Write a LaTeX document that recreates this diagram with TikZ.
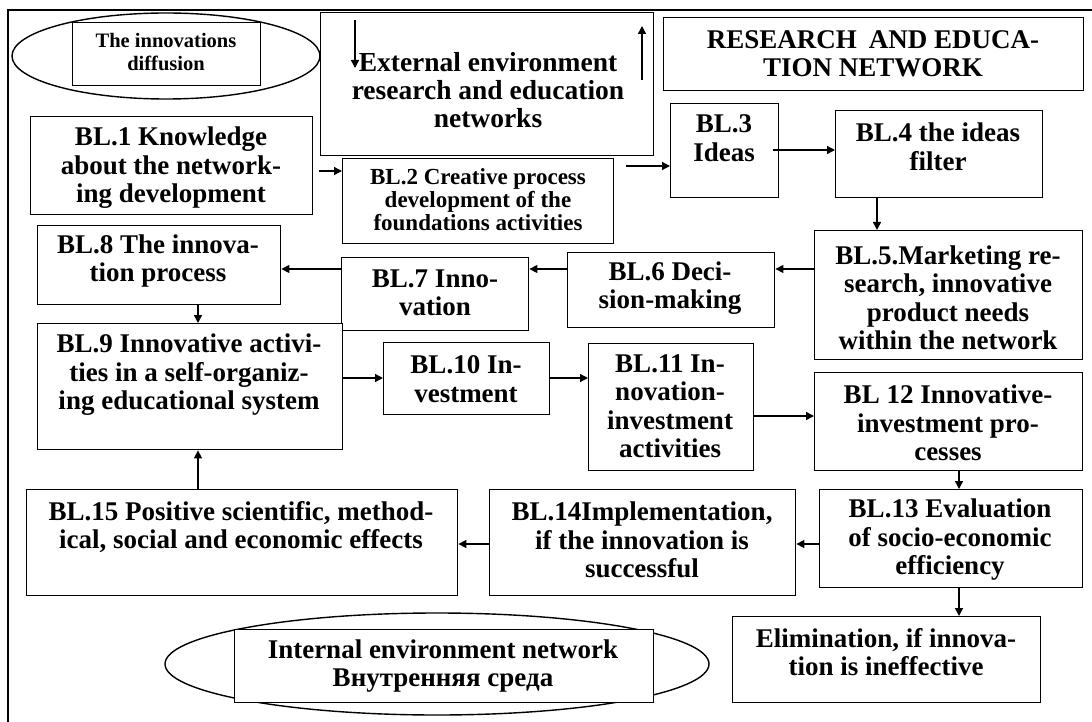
\documentclass[tikz,border=0pt]{standalone}
\usepackage{fontspec}
\setmainfont{Liberation Serif}
\usetikzlibrary{shapes.geometric,arrows.meta,calc}
\newcommand\mkbox[5]{\node[box, anchor=north west, minimum width={#4-#2}, minimum height={#5-#3}] (#1) at (#2,#3) {};}
\begin{document}
\begin{tikzpicture}[x=1pt,y=-1pt,
  box/.style={draw, line width=1.4pt, fill=white, inner sep=0pt, rectangle},
  oval/.style={draw, line width=1.4pt, fill=white, inner sep=0pt, ellipse},
  txt/.style={font=\bfseries\fontsize{27}{28.5}\selectfont, align=center, inner sep=0pt},
  arr/.style={line width=1.4pt, -{Triangle[length=8pt,width=8pt]}},
  frame/.style={line width=1.4pt}]
\useasboundingbox (0,0) rectangle (1092,722);
\draw[frame] (8,722) -- (8,10) -- (1092,10);

% top-left ellipse
\node[oval, minimum width=308pt, minimum height=86pt] (e1) at (166,56) {};
\mkbox{d0}{72}{22}{260}{85}
\node[txt, font=\bfseries\fontsize{20.5}{23}\selectfont] (td0) at (166,52) {The innovations\\diffusion};

% external environment
\mkbox{ext}{320}{12}{653}{155}
\node[txt, font=\bfseries\fontsize{27.5}{28}\selectfont] (text) at (488,90) {External environment\\research and education\\networks};
\coordinate (ad1) at (355,20); \coordinate (ad2) at (355,68);
\draw[arr] (ad1) -- (ad2);
\coordinate (au1) at (642,80); \coordinate (au2) at (642,26);
\draw[arr] (au1) -- (au2);

% research and education network
\mkbox{ren}{663}{17}{1083}{90}
\node[txt] (tren) at (873,54) {RESEARCH\hspace{0.45em}AND EDUCA-\\TION NETWORK};

\mkbox{b1}{30}{116}{312}{214}
\node[txt] (t1) at (171,168) {BL.1 Knowledge\\about the network-\\ing development};
\mkbox{b2}{342}{158}{613}{243}
\node[txt, font=\bfseries\fontsize{23}{23}\selectfont] (t2) at (478,200) {BL.2 Creative process\\development of the\\foundations activities};
\mkbox{b3}{670}{103}{778}{197}
\node[txt] (t3) at (724,138) {BL.3\\Ideas};
\mkbox{b4}{835}{110}{1042}{197}
\node[txt] (t4) at (938,147) {BL.4 the ideas\\filter};
\mkbox{b5}{814}{230}{1082}{359}
\node[txt] (t5) at (948,298) {BL.5.Marketing re-\\search, innovative\\product needs\\within the network};
\mkbox{b6}{567}{252}{774}{327}
\node[txt] (t6) at (670,288) {BL.6 Deci-\\sion-making};
\mkbox{b7}{341}{257}{528}{330}
\node[txt] (t7) at (435,293) {BL.7 Inno-\\vation};
\mkbox{b8}{37}{225}{280}{304}
\node[txt] (t8) at (158,261) {BL.8 The innova-\\tion process};
\mkbox{b9}{37}{323}{342}{449}
\node[txt] (t9) at (189,375) {BL.9 Innovative activi-\\ties in a self-organiz-\\ing educational system};
\mkbox{b10}{383}{342}{549}{414}
\node[txt] (t10) at (466,379) {BL.10 In-\\vestment};
\mkbox{b11}{588}{343}{753}{470}
\node[txt] (t11) at (670,406) {BL.11 In-\\novation-\\investment\\activities};
\mkbox{b12}{814}{372}{1082}{470}
\node[txt] (t12) at (948,423) {BL 12 Innovative-\\investment pro-\\cesses};
\mkbox{b13}{819}{489}{1082}{587}
\node[txt] (t13) at (950,540) {BL.13 Evaluation\\of socio-economic\\efficiency};
\mkbox{b14}{489}{489}{795}{595}
\node[txt] (t14) at (642,540) {BL.14Implementation,\\if the innovation is\\successful};
\mkbox{b15}{26}{489}{457}{595}
\node[txt] (t15) at (241,527) {BL.15 Positive scientific, method-\\ical, social and economic effects};
\mkbox{el}{732}{616}{1040}{702}
\node[txt] (tel) at (886,652) {Elimination, if innova-\\tion is ineffective};

% bottom ellipse
\node[oval, minimum width=544pt, minimum height=102pt] (e2) at (437,664) {};
\mkbox{d2}{234}{629}{653}{702}
\node[txt] (td2) at (443,666) {Internal environment network\\Внутренняя среда};

% connectors
\coordinate (s12) at ($(b1.north east)+(6,55)$);
\draw[arr] (s12) -- (b2.west |- s12);
\coordinate (s23) at ($(b2.north east)+(12,8)$);
\draw[arr] (s23) -- (b3.west |- s23);
\coordinate (s34) at ($(b3.north east)+(-6,47)$);
\draw[arr] (s34) -- (b4.west |- s34);
\coordinate (s45) at ($(b4.south west)+(42,0)$);
\draw[arr] (s45) -- (b5.north -| s45);
\coordinate (s56) at ($(b5.north west)+(0,39)$);
\draw[arr] (s56) -- (b6.east |- s56);
\coordinate (s67) at ($(b6.north west)+(0,17)$);
\draw[arr] (s67) -- (b7.east |- s67);
\coordinate (s78) at ($(b7.north west)+(0,12)$);
\draw[arr] (s78) -- (b8.east |- s78);
\coordinate (s89) at ($(b8.south west)+(161,0)$);
\draw[arr] (s89) -- (b9.north -| s89);
\coordinate (s910) at ($(b9.north east)+(0,55)$);
\draw[arr] (s910) -- (b10.west |- s910);
\coordinate (s1011) at ($(b10.north east)+(0,36)$);
\draw[arr] (s1011) -- (b11.west |- s1011);
\coordinate (s1112) at ($(b11.north east)+(0,73)$);
\draw[arr] (s1112) -- (b12.west |- s1112);
\coordinate (s1213) at ($(b12.south west)+(145,0)$);
\draw[arr] (s1213) -- (b13.north -| s1213);
\coordinate (s1314) at ($(b13.north west)+(0,55)$);
\draw[arr] (s1314) -- (b14.east |- s1314);
\coordinate (s1415) at ($(b14.north west)+(0,55)$);
\draw[arr] (s1415) -- (b15.east |- s1415);
\coordinate (s13el) at ($(b13.south west)+(140,0)$);
\draw[arr] (s13el) -- (el.north -| s13el);
\coordinate (s159) at ($(b15.north west)+(172,0)$);
\draw[arr] (s159) -- (b9.south -| s159);
\end{tikzpicture}
\end{document}
